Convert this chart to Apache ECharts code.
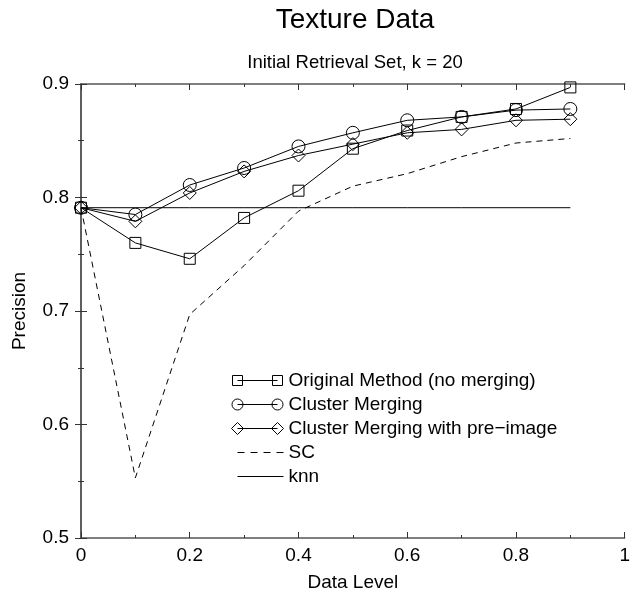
<!DOCTYPE html>
<html>
<head>
<meta charset="utf-8">
<script src="https://cdn.jsdelivr.net/npm/echarts@6/dist/echarts.min.js"></script>
<style>html,body{margin:0;padding:0;background:#fff;}#c{width:633px;height:597px;}</style>
</head>
<body>
<div id="c"></div>
<script>
const levels = [0, 0.1, 0.2, 0.3, 0.4, 0.5, 0.6, 0.7, 0.8, 0.9];
const originalMethod = [0.791, 0.760, 0.746, 0.782, 0.806, 0.843, 0.859, 0.871, 0.878, 0.897];
const clusterMerging = [0.791, 0.785, 0.811, 0.826, 0.845, 0.857, 0.868, 0.871, 0.877, 0.878];
const clusterPreimage = [0.791, 0.779, 0.804, 0.823, 0.837, 0.847, 0.857, 0.860, 0.868, 0.869];
const scValues = [0.791, 0.553, 0.697, 0.740, 0.788, 0.810, 0.821, 0.836, 0.848, 0.852];
const knnValues = [0.791, 0.791, 0.791, 0.791, 0.791, 0.791, 0.791, 0.791, 0.791, 0.791];
const seriesNames = ['Original Method (no merging)', 'Cluster Merging', 'Cluster Merging with pre\u2212image', 'SC', 'knn'];
const xTicks = [0, 0.2, 0.4, 0.6, 0.8, 1];
const yTicks = [0.5, 0.6, 0.7, 0.8, 0.9];

const pair = arr => levels.map((x, i) => [x, arr[i]]);
const FONT = '"Liberation Sans", Arial, Helvetica, sans-serif';
const bound = 'M0,0 L0,0 M52,12 L52,12 ';
const icons = [
  'path://' + bound + 'M1,1 L11,1 L11,11 L1,11 Z M6,6 L46,6 M41,1 L51,1 L51,11 L41,11 Z',
  'path://' + bound + 'M0.5,6 A5.5,5.5 0 1,0 11.5,6 A5.5,5.5 0 1,0 0.5,6 Z M6,6 L46,6 M40.5,6 A5.5,5.5 0 1,0 51.5,6 A5.5,5.5 0 1,0 40.5,6 Z',
  'path://' + bound + 'M0,6 L6,0 L12,6 L6,12 Z M6,6 L46,6 M40,6 L46,0 L52,6 L46,12 Z',
  'path://' + bound + 'M6,6 L13,6 M19,6 L26,6 M32,6 L39,6 M45,6 L52,6',
  'path://' + bound + 'M6,6 L52,6'
];

const markerStyle = { color: 'rgba(0,0,0,0)', borderColor: '#000', borderWidth: 1 };
function markSeries(name, arr, symbol, size) {
  return {
    name, type: 'line', data: pair(arr), symbol, symbolSize: size,
    showAllSymbol: true, silent: true, animation: false,
    itemStyle: markerStyle,
    lineStyle: { color: '#000', width: 1 }
  };
}

const axisCommon = {
  type: 'value',
  axisLine: { show: true, lineStyle: { color: '#555', width: 1.5 } },
  axisTick: { show: true, inside: true, length: 6, lineStyle: { color: '#333', width: 1 } },
  minorTick: { show: true, splitNumber: 2, length: 3, lineStyle: { color: '#333', width: 1 } },
  splitLine: { show: false }
};

const chart = echarts.init(document.getElementById('c'), null, { renderer: 'canvas' });
chart.setOption({
  backgroundColor: '#fff',
  animation: false,
  title: [
    { text: 'Texture Data', left: 355, top: 6, textAlign: 'center', padding: 0,
      textStyle: { fontFamily: FONT, fontSize: 28, fontWeight: 'normal', color: '#000' } },
    { text: 'Initial Retrieval Set, k = 20', left: 355, top: 53, textAlign: 'center', padding: 0,
      textStyle: { fontFamily: FONT, fontSize: 18.5, fontWeight: 'normal', color: '#000' } }
  ],
  grid: { left: 81, right: 3, top: 84, bottom: 54, containLabel: false },
  legend: {
    orient: 'vertical', left: 231, top: 371, itemWidth: 52, itemHeight: 12, itemGap: 5,
    padding: 0,
    data: seriesNames.map((n, i) => ({ name: n, icon: icons[i] })),
    itemStyle: { color: 'rgba(0,0,0,0)', borderColor: '#000', borderWidth: 1 },
    textStyle: { fontFamily: FONT, fontSize: 19, color: '#000' },
    selectedMode: false
  },
  xAxis: [
    Object.assign({}, axisCommon, {
      min: 0, max: 1, interval: 0.2, position: 'bottom',
      name: 'Data Level', nameLocation: 'middle', nameGap: 35,
      nameTextStyle: { fontFamily: FONT, fontSize: 19, color: '#000' },
      axisLabel: { fontFamily: FONT, fontSize: 19, color: '#000', margin: 8,
        customValues: xTicks, formatter: v => String(+v.toFixed(1)) }
    }),
    Object.assign({}, axisCommon, {
      min: 0, max: 1, interval: 0.2, position: 'top', axisLabel: { show: false }
    })
  ],
  yAxis: [
    Object.assign({}, axisCommon, {
      min: 0.5, max: 0.9, interval: 0.1, position: 'left',
      name: 'Precision', nameLocation: 'middle', nameGap: 52, nameRotate: 90,
      nameTextStyle: { fontFamily: FONT, fontSize: 19, color: '#000' },
      axisLabel: { fontFamily: FONT, fontSize: 19, color: '#000', margin: 12,
        formatter: v => v.toFixed(1) }
    }),
    Object.assign({}, axisCommon, {
      min: 0.5, max: 0.9, interval: 0.1, position: 'right', axisLabel: { show: false }
    })
  ],
  series: [
    markSeries(seriesNames[0], originalMethod, 'rect', 11),
    markSeries(seriesNames[1], clusterMerging, 'circle', 13),
    markSeries(seriesNames[2], clusterPreimage, 'diamond', 13),
    { name: seriesNames[3], type: 'line', data: pair(scValues), symbol: 'none', silent: true,
      itemStyle: { color: '#000' },
      lineStyle: { color: '#000', width: 1, type: [6, 5] } },
    { name: seriesNames[4], type: 'line', data: pair(knnValues), symbol: 'none', silent: true,
      itemStyle: { color: '#000' },
      lineStyle: { color: '#000', width: 1 } }
  ]
});
</script>
</body>
</html>
